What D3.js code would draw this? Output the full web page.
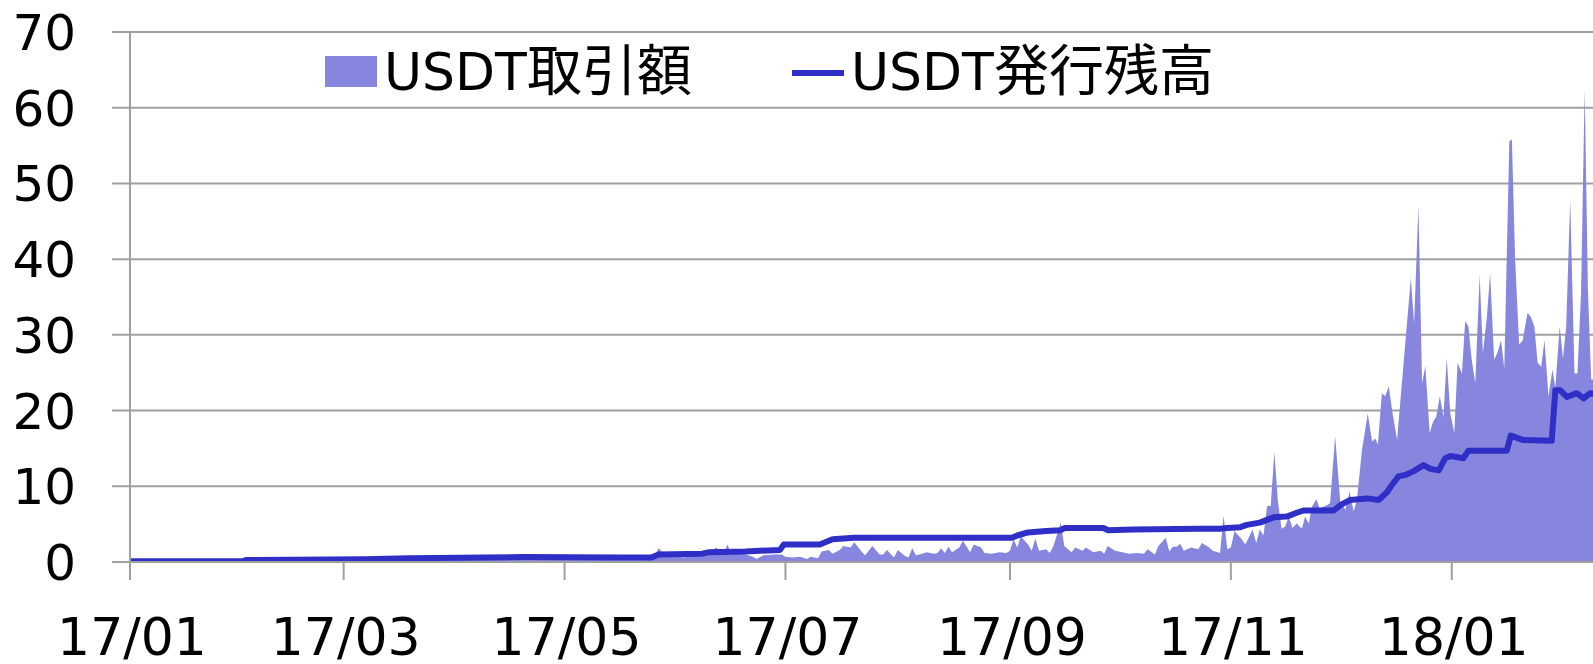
<!DOCTYPE html>
<html>
<head>
<meta charset="utf-8">
<script src="https://cdn.jsdelivr.net/npm/d3@7"></script>
<style>
  html, body { margin: 0; padding: 0; background: #fff; }
  svg { display: block; font-family: "DejaVu Sans", "Noto Sans CJK JP", sans-serif; }
</style>
</head>
<body>
<svg width="1593" height="664"></svg>
<script>
// days counted from 2017-01-01, value in the chart's unit
const volume = [
  [0,0.1],[20,0.15],[31,0.2],[45,0.2],[60,0.25],[75,0.3],[90,0.35],[105,0.4],[120,0.45],[135,0.3],
  [140,0.4],[144,0.6],[145,1.0],[146,1.8],[147,1.3],[149,1.2],[151,0.9],[153,0.6],[155,0.8],[157,1.0],
  [159,1.0],[162,1.9],[163,1.0],[164,1.2],[165,2.3],[166,1.0],[168,1.1],[170,1.0],[172,0.7],[173,0.4],
  [175,0.9],[178,1.0],[180,1.0],[181,0.7],[183,0.6],[185,0.7],[187,0.4],[188,0.7],[190,0.5],[191,1.4],
  [193,1.6],[194,1.1],[196,1.6],[197,2.1],[199,1.9],[200,2.6],[202,1.4],[203,0.9],[205,2.1],[207,1.0],
  [208,1.0],[209,1.6],[211,0.6],[212,1.6],[214,0.8],[215,0.6],[216,1.8],[217,0.9],[218,1.0],[220,1.3],
  [222,1.1],[223,1.2],[224,1.8],[225,1.2],[226,2.0],[227,1.3],[229,1.9],[230,2.8],[232,1.3],[233,2.3],
  [235,1.9],[236,1.2],[238,1.1],[240,1.3],[242,1.2],[243,1.5],[244,3.0],[245,1.9],[246,3.4],[248,2.3],
  [249,1.5],[250,3.1],[251,1.5],[253,1.7],[254,1.2],[255,2.1],[257,5.2],[258,2.1],[260,1.3],[261,1.9],
  [263,1.5],[264,1.9],[266,1.3],[268,1.5],[269,1.1],[270,2.1],[272,1.5],[274,1.3],[276,1.1],[278,1.2],
  [280,1.1],[281,1.7],[283,1.0],[284,2.1],[286,3.2],[287,1.4],[288,2.0],[289,2.0],[290,2.4],[291,1.5],
  [293,1.9],[295,1.7],[296,2.5],[298,1.9],[299,1.5],[301,1.2],[302,6.1],[303,1.7],[304,1.9],[305,4.1],
  [307,3.0],[308,2.3],[310,4.3],[311,2.5],[312,4.3],[313,3.5],[314,7.4],[315,7.4],[316,14.5],[317,8.0],
  [318,4.4],[319,4.7],[320,6.0],[321,4.5],[322.2,5.1],[323.6,4.4],[324.5,6.0],[325.5,5.1],[326.4,7.3],
  [327.6,8.3],[328.5,7.1],[330.5,7.5],[331.4,7.8],[332.8,16.6],[334.2,8.0],[335.6,6.9],[336.8,9.3],
  [337.9,6.7],[338.8,8.2],[340.2,14.8],[341.8,19.6],[343,15.9],[343.9,16.3],[344.6,15.5],[345.7,22.3],
  [346.6,21.9],[347.6,23.2],[348.5,20.1],[349.9,16.1],[351.7,26.3],[353.7,37.5],[354.6,31.5],[355.8,47.0],
  [356.8,23.6],[357.7,25.9],[358.9,17.0],[359.8,18.5],[360.7,19.2],[361.7,21.9],[362.7,19.2],[363.6,26.9],
  [364.6,19.6],[365.7,17.0],[366.6,26.3],[367.8,24.9],[368.7,31.8],[369.6,31.1],[370.5,26.7],[371.5,23.6],
  [372.7,37.9],[373.6,27.6],[374.7,32.4],[375.6,38.1],[376.7,26.7],[377.6,27.6],[378.6,29.3],[379.5,25.6],
  [380.9,55.6],[381.6,55.8],[382.5,39.9],[383.6,28.7],[384.6,29.3],[385.9,32.9],[386.8,32.4],[387.8,31.1],
  [388.7,26.3],[389.7,25.8],[390.6,29.3],[391.7,21.9],[392.8,25.4],[393.6,23.0],[394.8,31.1],[395.7,26.9],
  [396.6,31.1],[397.7,47.8],[398.9,24.9],[399.7,24.9],[400.7,35.5],[401.7,62.4],[402.6,35.9],[403.5,24.1],
  [404.5,24.1]
];

const supply = [
  [0,0.1],[31,0.1],[32,0.25],[65,0.35],[77,0.5],[91,0.55],[109,0.65],[135,0.6],[144,0.6],[146,1.0],
  [158,1.1],[160,1.3],[170,1.4],[179.5,1.6],[180.5,2.3],[190.5,2.3],[194,3.0],[200,3.2],[243.5,3.2],
  [245,3.5],[248,3.9],[253,4.1],[257,4.2],[258.2,4.5],[268.8,4.5],[270.1,4.2],[277,4.3],[295,4.4],
  [301,4.4],[303,4.5],[306.6,4.6],[308.4,4.9],[312,5.2],[315.8,5.9],[319.4,6.0],[322.2,6.5],[324,6.8],
  [332.4,6.8],[334.2,7.5],[337,8.2],[341.6,8.4],[344.8,8.2],[347.1,9.2],[348.5,10.2],[350.3,11.3],
  [352.2,11.5],[354.5,12.0],[357.2,12.8],[359.1,12.3],[361.4,12.1],[363.2,13.7],[364.6,14.0],[368.2,13.7],
  [369.6,14.7],[380.2,14.7],[381.3,16.7],[384.8,16.1],[392.6,16.0],[393.6,22.7],[394.9,22.7],[396.8,21.8],
  [399.5,22.3],[401.4,21.6],[403.2,22.3],[404.5,22.2]
];

const yTicks = [0, 10, 20, 30, 40, 50, 60, 70];
const xTicks = ["2017-01-01", "2017-03-01", "2017-05-01", "2017-07-01", "2017-09-01", "2017-11-01", "2018-01-01"];
const legendNames = [["USDT", "取引額"], ["USDT", "発行残高"]];

const start = new Date(2017, 0, 1);
const toDate = d => new Date(start.getTime() + d * 864e5);
const parse = d3.timeParse("%Y-%m-%d");

const svg = d3.select("svg");
const plotLeft = 130, plotRight = 1593, plotTop = 32, plotBottom = 562;

const x = d3.scaleTime()
  .domain([start, toDate(404)])
  .range([plotLeft, plotRight]);
const y = d3.scaleLinear()
  .domain([0, 70])
  .range([plotBottom, plotTop]);

// grid + y ticks (grid lines run out past the axis like tick marks)
svg.append("g")
  .selectAll("line")
  .data(yTicks)
  .join("line")
  .attr("x1", plotLeft - 18)
  .attr("x2", plotRight)
  .attr("y1", d => y(d))
  .attr("y2", d => y(d))
  .attr("stroke", "#a0a0a0")
  .attr("stroke-width", 2);

svg.append("g")
  .selectAll("text")
  .data(yTicks)
  .join("text")
  .attr("x", 76)
  .attr("y", d => y(d))
  .attr("dy", "0.36em")
  .attr("text-anchor", "end")
  .attr("font-size", 50)
  .attr("fill", "#000")
  .text(d => d);

// clip so the series stop at the right edge
svg.append("clipPath").attr("id", "plot")
  .append("rect").attr("x", plotLeft).attr("y", 0).attr("width", plotRight - plotLeft).attr("height", plotBottom);

const area = d3.area()
  .x(d => x(toDate(d[0])))
  .y0(y(0))
  .y1(d => y(d[1]));

svg.append("path")
  .datum(volume)
  .attr("clip-path", "url(#plot)")
  .attr("fill", "#8686de")
  .attr("d", area);

const line = d3.line()
  .x(d => x(toDate(d[0])))
  .y(d => y(d[1]));

svg.append("path")
  .datum(supply)
  .attr("clip-path", "url(#plot)")
  .attr("fill", "none")
  .attr("stroke", "#2f2fc8")
  .attr("stroke-width", 6)
  .attr("stroke-linejoin", "round")
  .attr("d", line);

// axes lines
svg.append("line")
  .attr("x1", plotLeft).attr("x2", plotLeft)
  .attr("y1", plotTop).attr("y2", plotBottom)
  .attr("stroke", "#a0a0a0").attr("stroke-width", 2);
svg.append("line")
  .attr("x1", plotLeft - 18).attr("x2", plotRight)
  .attr("y1", plotBottom).attr("y2", plotBottom)
  .attr("stroke", "#a0a0a0").attr("stroke-width", 2);

const xAxis = svg.append("g");
xAxis.selectAll("line")
  .data(xTicks)
  .join("line")
  .attr("x1", d => x(parse(d)))
  .attr("x2", d => x(parse(d)))
  .attr("y1", plotBottom)
  .attr("y2", plotBottom + 18)
  .attr("stroke", "#a0a0a0")
  .attr("stroke-width", 2);
xAxis.selectAll("text")
  .data(xTicks)
  .join("text")
  .attr("x", d => x(parse(d)) + 2)
  .attr("y", 655)
  .attr("text-anchor", "middle")
  .attr("font-size", 52)
  .attr("fill", "#000")
  .text(d => d3.timeFormat("%y/%m")(parse(d)));

// legend
const lg = svg.append("g");
lg.append("rect")
  .attr("x", 325).attr("y", 56).attr("width", 52).attr("height", 31)
  .attr("fill", "#8686de");
const t1 = lg.append("text").attr("x", 384).attr("y", 90).attr("font-size", 52);
t1.append("tspan").text(legendNames[0][0]);
t1.append("tspan").attr("font-size", 55).text(legendNames[0][1]);
lg.append("line")
  .attr("x1", 792).attr("x2", 844)
  .attr("y1", 73).attr("y2", 73)
  .attr("stroke", "#2f2fc8").attr("stroke-width", 6);
const t2 = lg.append("text").attr("x", 851).attr("y", 90).attr("font-size", 52);
t2.append("tspan").text(legendNames[1][0]);
t2.append("tspan").attr("font-size", 55).text(legendNames[1][1]);
</script>
</body>
</html>
